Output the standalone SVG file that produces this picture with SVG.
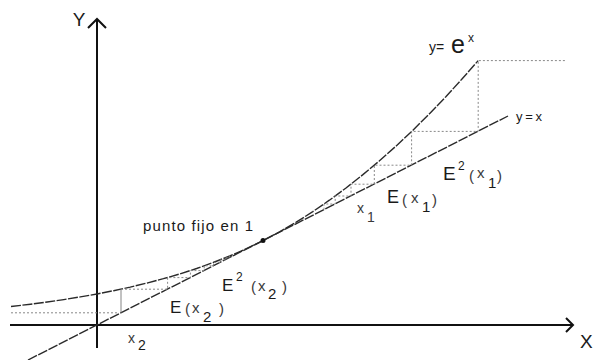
<svg xmlns="http://www.w3.org/2000/svg" width="595" height="360" viewBox="0 0 595 360">
<style>
.axis{stroke:#111;stroke-width:2;fill:none}
.curve{stroke:#2a2a2a;stroke-width:1.4;fill:none;stroke-dasharray:10 1.5}
.web{stroke:#888;stroke-width:1;fill:none;stroke-dasharray:2 2}
.thin{stroke:#777;stroke-width:0.9;fill:none}
text{font-family:"Liberation Sans",Arial,sans-serif;fill:#1a1a1a}
.lt{fill:#3a3a3a}
</style>
<rect width="595" height="360" fill="#fff"/>
<g id="axes">
<line class="axis" x1="97" y1="19" x2="97" y2="348"/>
<polyline class="axis" points="88,28 97,19 106,28"/>
<line class="axis" x1="10" y1="325" x2="573" y2="325"/>
<polyline class="axis" points="566,318 573,325 566,332"/>
<text x="79" y="26" font-size="19" text-anchor="middle">Y</text>
<text x="580" y="348" font-size="19">X</text>
</g>
<g id="connectors">
<path id="exp-curve" class="curve" d="M11,306.5 L30.6,304.2 L47.2,302 L63.8,299.6 L80.4,296.9 L97,294 L113.6,290.7 L130.2,287.1 L146.8,283.1 L163.4,278.7 L180,273.9 L196.6,268.5 L213.2,262.5 L229.8,256 L246.4,248.7 L263,240.7 L279.6,231.8 L296.2,222.2 L312.8,211.6 L329.4,200.2 L346,188 L362.6,174.9 L379.2,161 L395.8,146.3 L412.4,130.7 L429,114.2 L445.6,97 L462.2,78.8 L478.2,60.6"/>
<line id="identity" class="curve" x1="28" y1="360" x2="508" y2="116"/>
<path id="web-right" class="web" d="M324,209.7 V204 H335.2 V196 H351 V184.2 H374.3 V165.2 H411.6 V131.4 H478.2 V60.6 H565"/>
<path id="web-left" class="web" d="M121,289.2 H167.6 V277.6 H190.4 V270.6 H204.2 V265.8 H213.5 V262.4 H220.2 V259.9 H225.3 V257.8 H229.3 V256.2 H232.5"/>
<line class="thin" x1="121" y1="312.8" x2="121" y2="289.2"/>
<line class="web" x1="11" y1="312.8" x2="118" y2="312.8"/>
<circle id="fixed-point" cx="263" cy="240.5" r="2.5" fill="#111"/>
</g>
<g id="labels">
<text x="429" y="52" font-size="14">y=</text>
<text x="451" y="53" font-size="25">e</text>
<text x="468" y="42" font-size="12">x</text>
<text x="516" y="121" font-size="13" textLength="26">y=x</text>
<text x="143" y="231" font-size="15" textLength="110">punto fijo en 1</text>
<text x="357" y="213" font-size="14" class="lt">x</text>
<text x="367" y="222" font-size="14" class="lt">1</text>
<text x="443" y="180" font-size="19">E</text>
<text x="458" y="170" font-size="12">2</text>
<text x="469" y="181" font-size="15" class="lt">(</text>
<text x="477" y="178" font-size="15" class="lt">x</text>
<text x="488" y="188" font-size="15">1</text>
<text x="497" y="181" font-size="15" class="lt">)</text>
<text x="387" y="203" font-size="18">E</text>
<text x="402" y="205" font-size="15" class="lt">(</text>
<text x="411" y="203" font-size="15" class="lt">x</text>
<text x="422" y="212" font-size="15">1</text>
<text x="432" y="205" font-size="15" class="lt">)</text>
<text x="222" y="291" font-size="17">E</text>
<text x="236" y="281" font-size="12">2</text>
<text x="251" y="292" font-size="15" class="lt">(</text>
<text x="258" y="291" font-size="15" class="lt">x</text>
<text x="268" y="299" font-size="15">2</text>
<text x="282" y="292" font-size="15" class="lt">)</text>
<text x="170" y="313" font-size="17">E</text>
<text x="185" y="314" font-size="15" class="lt">(</text>
<text x="192" y="313" font-size="15" class="lt">x</text>
<text x="203" y="322" font-size="15">2</text>
<text x="219" y="314" font-size="15" class="lt">)</text>
<text x="128" y="343" font-size="14" class="lt">x</text>
<text x="138" y="350" font-size="14">2</text>
</g>
</svg>
